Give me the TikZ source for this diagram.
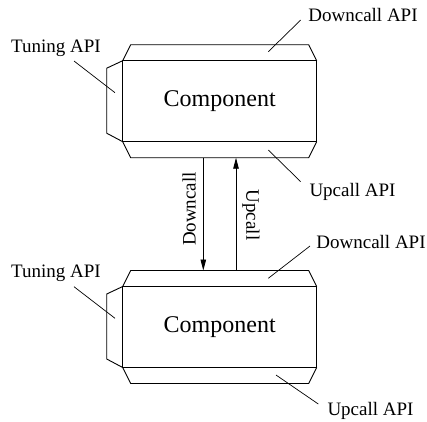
\documentclass[tikz,border=0pt]{standalone}
\usepackage{fontspec}
\setmainfont{Liberation Serif}
\usetikzlibrary{arrows.meta}

\tikzset{
  edge/.style={line width=0.9pt, line join=miter},
  leader/.style={line width=0.7pt},
  lbl/.style={font=\fontsize{19}{22}\selectfont, inner sep=0pt},
  arr/.style={line width=0.9pt, -{Triangle[length=11pt,width=5.5pt]}},
  pics/component/.style={code={
    % main body with its name
    \node[edge, draw, minimum width=194pt, minimum height=81pt, inner sep=0pt,
          font=\fontsize{24}{28}\selectfont] (-body) at (0,0) {Component};
    % downcall tab (top), upcall tab (bottom), tuning tab (left)
    \draw[edge] (-97,-40.5) -- (-89,-56.5) -- (89,-56.5) -- (97,-40.5);
    \draw[edge] (-97,40.5) -- (-89,56.5) -- (89,56.5) -- (97,40.5);
    \draw[edge] (-97,-40.5) -- (-113,-33) -- (-113,32) -- (-97,40.5);
    % attachment points for the calls
    \coordinate (-downout) at (-16.4,56.5);
    \coordinate (-upin)    at (16.3,56.5);
    \coordinate (-downin)  at (-16.4,-56.5);
    \coordinate (-upout)   at (16.3,-56.5);
  }}
}

\begin{document}
\begin{tikzpicture}[x=1pt, y=-1pt]
\useasboundingbox (0,0) rectangle (427,421);

\pic (c1) at (219.7,101.2) {component};
\pic (c2) at (219.7,327) {component};

% calls between the two components
\draw[arr] (c1-downout) -- (c2-downin);
\draw[arr] (c2-upout) -- (c1-upin);
\node[lbl, rotate=90]  (dnlbl) at (189,209) {Downcall};
\node[lbl, rotate=-90] (uplbl) at (251,215) {Upcall};

% labels of the upper component
\node[lbl] (t1) at (56,48)    {Tuning API};
\node[lbl] (d1) at (363,15)   {Downcall API};
\node[lbl] (u1) at (352.5,192) {Upcall API};
\coordinate (t1a) at (74,61);      \coordinate (t1b) at (115,92.7);
\coordinate (d1a) at (300.7,20);   \coordinate (d1b) at (268.3,51.7);
\coordinate (u1a) at (268.3,150);  \coordinate (u1b) at (300.7,181.7);
\draw[leader] (t1a) -- (t1b);
\draw[leader] (d1a) -- (d1b);
\draw[leader] (u1a) -- (u1b);

% labels of the lower component
\node[lbl] (t2) at (56,273)   {Tuning API};
\node[lbl] (d2) at (371,242)  {Downcall API};
\node[lbl] (u2) at (370.5,411) {Upcall API};
\coordinate (t2a) at (74,286.7);   \coordinate (t2b) at (115,318.3);
\coordinate (d2a) at (310,246);    \coordinate (d2b) at (268.3,278.3);
\coordinate (u2a) at (276,375);    \coordinate (u2b) at (318.3,404);
\draw[leader] (t2a) -- (t2b);
\draw[leader] (d2a) -- (d2b);
\draw[leader] (u2a) -- (u2b);
\end{tikzpicture}
\end{document}
